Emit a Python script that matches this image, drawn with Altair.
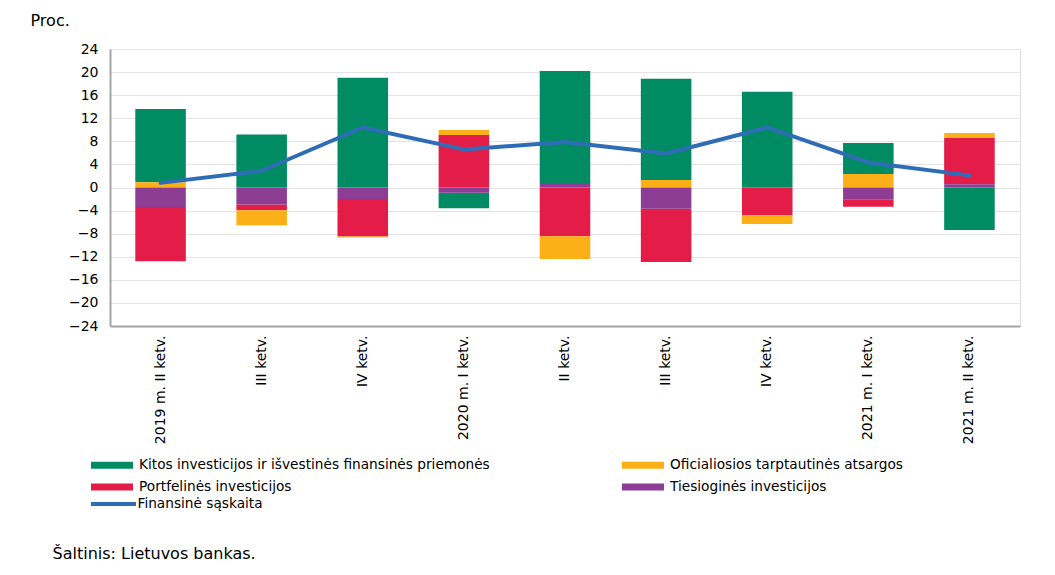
import altair as alt
import pandas as pd

quarters = ["2019 m. II ketv.", "III ketv.", "IV ketv.", "2020 m. I ketv.", "II ketv.",
            "III ketv. ", "IV ketv. ", "2021 m. I ketv.", "2021 m. II ketv."]
kitos = [12.7, 9.2, 19.0, -2.7, 19.6, 17.56, 16.6, 5.4, -7.36]
oficialiosios = [0.9, -2.6, -0.15, 0.87, -3.94, 1.28, -1.57, 2.32, 0.87]
portfelines = [-9.4, -1.0, -6.5, 9.1, -8.46, -9.2, -4.75, -1.2, 8.0]
tiesiogines = [-3.4, -2.95, -2.0, -0.9, 0.6, -3.7, 0.0, -2.14, 0.58]
finansine = [0.8, 2.9, 10.4, 6.6, 7.9, 5.9, 10.4, 4.35, 2.1]
y_ticks = [-24, -20, -16, -12, -8, -4, 0, 4, 8, 12, 16, 20, 24]

# legend fills column by column: Kitos, Portfelinės | Oficialiosios, Tiesioginės
series_names = ["Kitos investicijos ir išvestinės finansinės priemonės",
                "Portfelinės investicijos",
                "Oficialiosios tarptautinės atsargos",
                "Tiesioginės investicijos"]
series_colors = ["#008B62", "#E31C48", "#FCAF17", "#8D3E94"]
series_values = [kitos, portfelines, oficialiosios, tiesiogines]
stack_order = [3, 1, 2, 0]
line_name = "Finansinė sąskaita"

rows = []
for name, vals, order in zip(series_names, series_values, stack_order):
    for q, v in zip(quarters, vals):
        rows.append({"q": q, "serija": name, "v": v, "ord": order})
bars_df = pd.DataFrame(rows)
line_df = pd.DataFrame({"q": quarters, "v": finansine, "serija": [line_name] * len(quarters)})

FONT = "DejaVu Sans"

x_enc = alt.X("q:N", sort=quarters, title="Šaltinis: Lietuvos bankas.",
              scale=alt.Scale(paddingInner=0.5, paddingOuter=0.25),
              axis=alt.Axis(labelAngle=270, labelFontSize=14, labelFont=FONT, labelColor="#000000",
                            labelPadding=9, ticks=False, domainColor="#A6A6A6", domainWidth=2,
                            titleFont=FONT, titleFontSize=16, titleFontWeight="normal",
                            titleColor="#000000", titleAnchor="start", titleAlign="left",
                            titleBaseline="alphabetic", titleX=-58, titleY=232))

y_axis = alt.Axis(values=y_ticks, tickCount=13, labelOverlap=False,
                  labelFontSize=14, labelFont=FONT,
                  labelColor="#000000", labelPadding=12, ticks=False,
                  domainColor="#A6A6A6", domainWidth=2,
                  gridColor="#E3E3E3", gridWidth=1,
                  titleFont=FONT, titleFontSize=16, titleFontWeight="normal",
                  titleColor="#000000", titleAngle=0, titleAlign="left",
                  titleBaseline="alphabetic", titleX=-80, titleY=-24)
y_scale = alt.Scale(domain=[-24, 24], nice=False)

bars = alt.Chart(bars_df).mark_bar().encode(
    x=x_enc,
    y=alt.Y("v:Q", stack="zero", title="Proc.", scale=y_scale, axis=y_axis),
    fill=alt.Fill("serija:N", scale=alt.Scale(domain=series_names, range=series_colors),
                  legend=alt.Legend(title=None, orient="none", legendX=-13, legendY=401,
                                    columns=2, columnPadding=132, rowPadding=-3,
                                    symbolType="M-1.4,-0.233H1.4V0.233H-1.4Z", symbolSize=900,
                                    symbolStrokeWidth=0, labelFont=FONT, labelFontSize=13.7,
                                    labelColor="#000000", labelLimit=600, labelOffset=12)),
    order=alt.Order("ord:Q", sort="ascending"),
)

line = alt.Chart(line_df).mark_line(strokeWidth=4, strokeCap="round", strokeJoin="round").encode(
    x=x_enc,
    y=alt.Y("v:Q", title="Proc.", scale=y_scale, axis=y_axis),
    stroke=alt.Stroke("serija:N", scale=alt.Scale(domain=[line_name], range=["#2E6DB6"]),
                      legend=alt.Legend(title=None, orient="none", legendX=-13.5, legendY=438,
                                        symbolType="M-1.5,0H1.5", symbolSize=900,
                                        symbolStrokeWidth=4, symbolFillColor="transparent",
                                        labelFont=FONT, labelFontSize=13.7, labelColor="#000000",
                                        labelLimit=600, labelOffset=7)),
)

chart = alt.layer(bars, line).resolve_scale(fill="independent", stroke="independent").properties(
    width=910, height=277,
    autosize=alt.AutoSizeParams(type="none"),
    padding={"left": 102, "top": 41, "right": 20, "bottom": 240},
).configure_view(stroke=None).configure(background="white")

chart.save("out.html", embed_options={"renderer": "svg", "actions": False})
